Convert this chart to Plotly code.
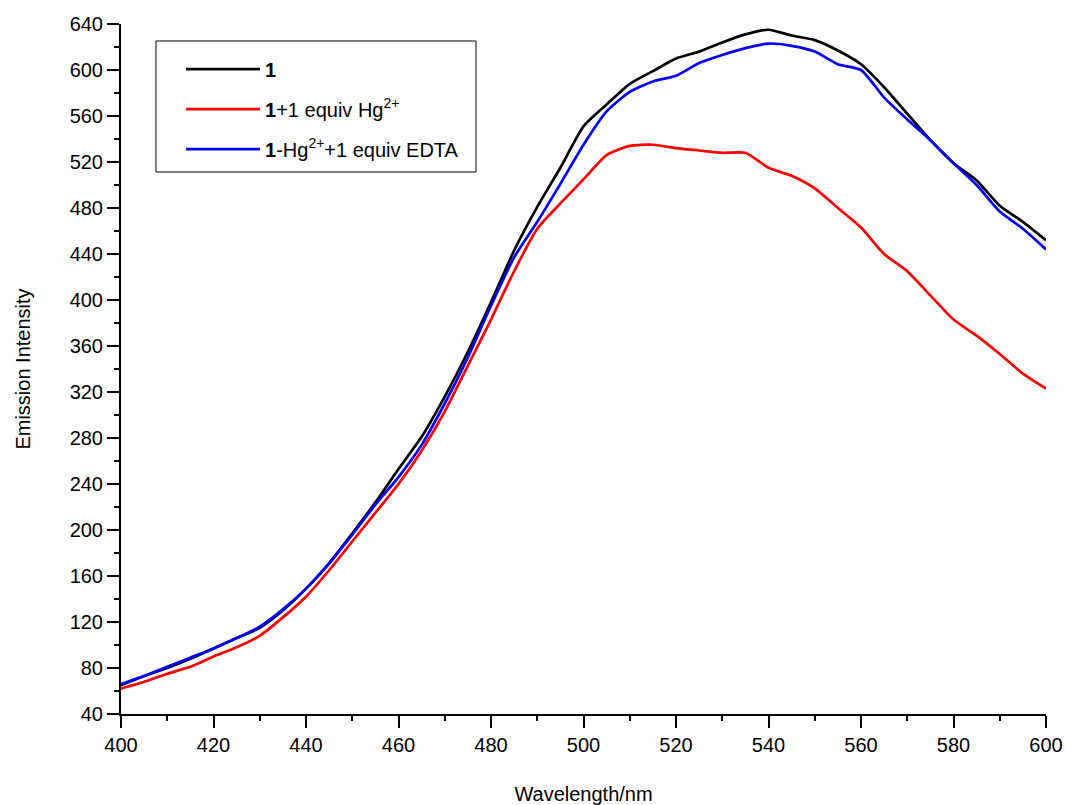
import plotly.graph_objects as go

wavelength = [400, 405, 410, 415, 420, 425, 430, 435, 440, 445, 450, 455, 460, 465, 470,
              475, 480, 485, 490, 495, 500, 505, 510, 515, 520, 525, 530, 535, 540, 545,
              550, 555, 560, 565, 570, 575, 580, 585, 590, 595, 600]

black_1 = [65, 73, 80, 88, 97, 106, 115, 130, 149, 171, 197, 224, 253, 281, 316,
           355, 398, 443, 481, 515, 551, 570, 588, 599, 610, 616, 624, 631, 635, 630,
           626, 617, 605, 585, 562, 539, 519, 504, 482, 468, 452]

red_hg = [62, 68, 75, 81, 90, 98, 108, 124, 142, 165, 190, 215, 240, 269, 303,
          343, 383, 425, 462, 484, 505, 526, 534, 535, 532, 530, 528, 528, 515, 508,
          497, 480, 463, 440, 425, 404, 383, 369, 353, 336, 323]

blue_edta = [66, 73, 81, 89, 97, 106, 116, 131, 149, 171, 196, 222, 246, 274, 310,
             350, 395, 437, 468, 501, 535, 564, 581, 590, 595, 606, 613, 619, 623, 621,
             616, 605, 600, 576, 557, 539, 519, 500, 477, 462, 444]

names = ["<b>1</b>", "<b>1</b>+1 equiv Hg<sup>2+</sup>", "<b>1</b>-Hg<sup>2+</sup>+1 equiv EDTA"]
colors = ["#000000", "#ff0000", "#0000ff"]
series = [black_1, red_hg, blue_edta]

fig = go.Figure()
for i, (nm, col, ys) in enumerate(zip(names, colors, series)):
    fig.add_trace(go.Scatter(x=wavelength, y=ys, mode="lines", name=nm,
                             legendgroup=f"g{i}",
                             line=dict(color=col, width=2.7, shape="spline", smoothing=0.6)))

# legend frame
fig.add_shape(type="rect", xref="paper", yref="paper",
              x0=0.0378, x1=0.3838, y0=0.7855, y1=0.9754,
              line=dict(color="black", width=1), fillcolor="rgba(0,0,0,0)", layer="above")

font_family = "Liberation Sans, Arial, sans-serif"
fig.update_layout(
    width=1067, height=805,
    margin=dict(l=121, r=21, t=24, b=91),
    paper_bgcolor="white", plot_bgcolor="white",
    font=dict(family=font_family, size=20, color="black"),
    showlegend=True,
    legend=dict(x=0.0649, y=0.963, xanchor="left", yanchor="top",
                borderwidth=0, bgcolor="rgba(0,0,0,0)",
                font=dict(size=20), tracegroupgap=11, itemwidth=74),
    xaxis=dict(range=[400, 600], tick0=400, dtick=20, showline=True, linecolor="black",
               linewidth=2, ticks="outside", ticklen=12, tickwidth=2, tickcolor="black",
               showgrid=False, zeroline=False, mirror=False, automargin=False,
               minor=dict(dtick=10, ticks="outside", ticklen=5, tickwidth=2, tickcolor="black", showgrid=False),
               title=dict(text="Wavelength/nm", font=dict(size=20), standoff=42)),
    yaxis=dict(range=[40, 640], tick0=40, dtick=40, showline=True, linecolor="black",
               linewidth=2, ticks="outside", ticklen=12, tickwidth=2, tickcolor="black",
               showgrid=False, zeroline=False, mirror=False, automargin=False,
               minor=dict(dtick=20, ticks="outside", ticklen=5, tickwidth=2, tickcolor="black", showgrid=False),
               title=dict(text="Emission Intensity", font=dict(size=20), standoff=34)),
)

fig.write_html("out.html", config={"displayModeBar": False},
               post_script="document.body.style.margin='0px';document.body.style.overflow='hidden';")
